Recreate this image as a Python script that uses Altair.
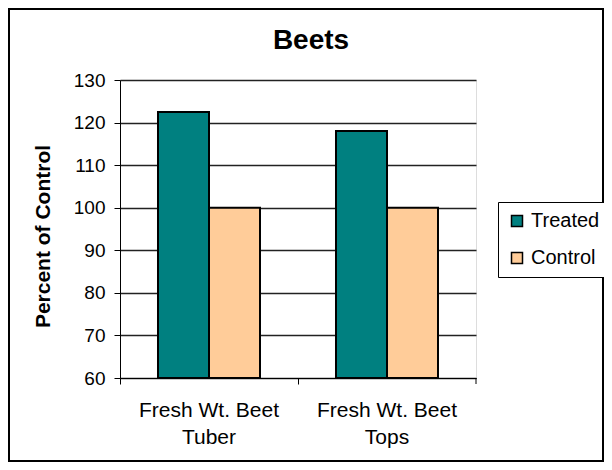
import altair as alt
import pandas as pd

categories = ["Fresh Wt. Beet|Tuber", "Fresh Wt. Beet|Tops"]
series = ["Treated", "Control"]
treated = [122.5, 118.0]
control = [100.0, 100.0]
colors = ["#008080", "#FFCC99"]
y_ticks = [60, 70, 80, 90, 100, 110, 120, 130]
y_min, y_max = 60, 130

rows = []
for i, c in enumerate(categories):
    rows.append({"category": c, "series": "Treated", "value": treated[i]})
    rows.append({"category": c, "series": "Control", "value": control[i]})
df = pd.DataFrame(rows)

FONT = "Liberation Sans"
W, H = 356, 298

bars = alt.Chart(df).mark_bar(stroke="black", strokeWidth=2).encode(
    x=alt.X("category:N", sort=categories,
            scale=alt.Scale(paddingInner=0, paddingOuter=0),
            axis=alt.Axis(title=None, bandPosition=0,
                          labelExpr="split(datum.label, '|')",
                          labelFontSize=21, labelFont=FONT, labelColor="black",
                          labelLineHeight=27, labelPadding=15, labelAngle=0,
                          tickSize=6, tickColor="black", domainColor="black",
                          grid=False)),
    xOffset=alt.XOffset("series:N", sort=series,
                        scale=alt.Scale(paddingInner=0, paddingOuter=0.745)),
    y=alt.Y("value:Q",
            scale=alt.Scale(domain=[y_min, y_max], nice=False, zero=False),
            axis=alt.Axis(title="Percent of Control", values=y_ticks,
                          titleFontSize=21, titleFont=FONT, titleFontWeight="bold",
                          titleColor="black", titleX=-77, titleY=156,
                          titleAlign="center", titleBaseline="middle", titleAngle=270,
                          labelFontSize=19, labelFont=FONT, labelColor="black",
                          labelPadding=9, tickSize=6, tickColor="black",
                          domainColor="black", gridColor="#222222", gridWidth=1.4)),
    y2=alt.datum(y_min),
    fill=alt.Fill("series:N", sort=series,
                  scale=alt.Scale(domain=series, range=colors),
                  legend=alt.Legend(orient="none", legendX=378, legendY=122,
                                    title=None, strokeColor="black", fillColor="white",
                                    padding=9, symbolType="square", symbolSize=121,
                                    symbolStrokeColor="black", symbolStrokeWidth=1.5,
                                    labelFontSize=20, labelFont=FONT, labelColor="black",
                                    rowPadding=17, labelOffset=4)),
)

# closing tick at the right end of the category axis
end_tick = alt.Chart(pd.DataFrame({"a": [0]})).mark_rule(color="black", strokeWidth=1).encode(
    x=alt.value(W), y=alt.value(H), y2=alt.value(H + 6),
)

frame = alt.Chart(pd.DataFrame({"a": [0]})).mark_rect(
    fill=None, stroke="black", strokeWidth=2
).encode(
    x=alt.value(-111), x2=alt.value(W + 127),
    y=alt.value(-71), y2=alt.value(H + 83),
)

chart = alt.layer(bars, end_tick, frame).properties(
    width=W, height=H,
    autosize=alt.AutoSizeParams(type="none"),
    padding={"left": 112, "top": 72, "right": 128, "bottom": 84},
    title=alt.TitleParams("Beets", fontSize=28, fontWeight="bold", font=FONT,
                          color="black", anchor="middle", frame="group", dx=13,
                          offset=-47),
).configure_view(stroke="#888888", strokeWidth=2).configure(background="white")

chart.save("out.html", embed_options={"renderer": "svg", "actions": False})
